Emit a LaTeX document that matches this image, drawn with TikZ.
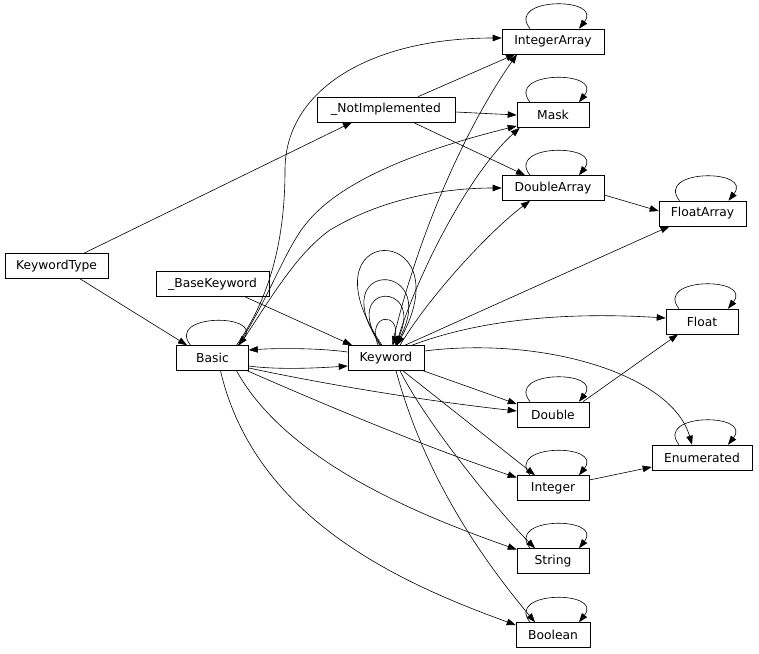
\documentclass[tikz,border=0pt]{standalone}
\usepackage{fontspec}
\setmainfont{DejaVu Sans}
\usetikzlibrary{arrows.meta}
\tikzset{
  box/.style={draw, rectangle, minimum height=25, inner sep=0, line width=0.6pt, font=\fontsize{12.3}{14}\selectfont},
  link/.style={draw, line width=0.6pt, -{Triangle[length=9pt,width=6.5pt]}}
}
\newcommand{\sloop}[1]{\draw[link] ([xshift=-23]#1.north) .. controls +(-25,-32) and +(25,-32) .. ([xshift=26]#1.north);}
\begin{document}
\begin{tikzpicture}[x=1pt,y=-1pt]
\useasboundingbox (0,0) rectangle (759,653);
% nodes
\node[box, minimum width=102] (IA) at (553,41.5) {IntegerArray};
\node[box, minimum width=138] (NI) at (386,109.5) {\_NotImplemented};
\node[box, minimum width=72] (Mask) at (553,115) {Mask};
\node[box, minimum width=102] (DA) at (553,188) {DoubleArray};
\node[box, minimum width=87] (FA) at (702.5,213.5) {FloatArray};
\node[box, minimum width=103] (KT) at (56.5,266) {KeywordType};
\node[box, minimum width=113] (BK) at (212.5,284) {\_BaseKeyword};
\node[box, minimum width=72] (Basic) at (212.5,358) {Basic};
\node[box, minimum width=76] (KW) at (386,358) {Keyword};
\node[box, minimum width=72] (Float) at (702,321.5) {Float};
\node[box, minimum width=72] (Double) at (553,414.5) {Double};
\node[box, minimum width=100] (Enum) at (702,457.5) {Enumerated};
\node[box, minimum width=72] (Int) at (553,488) {Integer};
\node[box, minimum width=72] (Str) at (553,561) {String};
\node[box, minimum width=74] (Bool) at (553,635) {Boolean};
% self loops
\sloop{IA}
\sloop{Mask}
\sloop{DA}
\sloop{FA}
\sloop{Float}
\sloop{Double}
\sloop{Enum}
\sloop{Int}
\sloop{Str}
\sloop{Bool}
\draw[link] ([xshift=-22]Basic.north) .. controls +(-25,-32) and +(25,-32) .. ([xshift=26]Basic.north);
% keyword loops
\draw[link] ([xshift=-8]KW.north) .. controls +(-12,-33) and +(8,-33) .. ([xshift=7]KW.north);
\draw[link] ([xshift=-6]KW.north) .. controls +(-40,-64) and +(30,-64) .. ([xshift=9]KW.north);
\draw[link] ([xshift=-5]KW.north) .. controls +(-60,-86) and +(45,-86) .. ([xshift=10]KW.north);
\draw[link] ([xshift=-4]KW.north) .. controls +(-85,-125) and +(68,-125) .. ([xshift=11]KW.north);
% straight edges
\draw[link] ([xshift=27.5]KT.north) -- ([xshift=-34]NI.south);
\draw[link] ([xshift=23.5]KT.south) -- ([xshift=-25.5]Basic.north);
\draw[link] ([xshift=32.5]BK.south) -- ([xshift=-34]KW.north);
\draw[link] ([xshift=32]NI.north) -- ([xshift=-38]IA.south);
\draw[link] ([yshift=-2.5]NI.east) -- (Mask.west);
\draw[link] ([xshift=27]NI.south) -- ([xshift=-28]DA.north);
\draw[link] ([yshift=-7]DA.east) -- ([yshift=2.5]FA.west);
\draw[link] ([xshift=30]Double.north) -- ([xshift=-24]Float.south);
\draw[link] ([yshift=8]Int.east) -- ([yshift=-9.5]Enum.west);
% keyword edges
\draw[link] ([xshift=6]KW.north) .. controls +(25,-110) and +(-50,71) .. ([xshift=-36]IA.south);
\draw[link] ([xshift=10]KW.north) .. controls +(20,-70) and +(-50,45) .. ([xshift=3]Mask.south west);
\draw[link] ([xshift=14]KW.north) .. controls +(30,-50) and +(-40,30) .. ([xshift=-23]DA.south);
\draw[link] ([xshift=19]KW.north) -- ([xshift=-33]FA.south);
\draw[link] ([xshift=26]KW.north) .. controls +(80,-30) and +(-80,-5) .. ([yshift=3.5]Float.west);
\draw[link] ([yshift=7]KW.east) .. controls +(120,-15) and +(-20,-70) .. ([xshift=-10]Enum.north);
\draw[link] ([xshift=-1]KW.south east) -- ([yshift=10.5]Double.west);
\draw[link] ([xshift=17]KW.south) -- ([xshift=-18]Int.north);
\draw[link] ([xshift=14]KW.south) .. controls +(25,50) and +(-40,-40) .. ([xshift=-18]Str.north);
\draw[link] ([xshift=10]KW.south) .. controls +(30,110) and +(-50,-60) .. ([xshift=-18]Bool.north);
\draw[link] ([yshift=6]KW.west) .. controls +(-30,-4) and +(30,-2) .. ([yshift=8]Basic.east);
% basic edges
\draw[link] ([yshift=-8]Basic.east) .. controls +(30,4) and +(-30,2) .. ([yshift=-8]KW.west);
\draw[link] ([xshift=24]Basic.north) .. controls (265,305) and (285,250) .. (285,170) .. controls (285,90) and (370,38) .. ([yshift=3.5]IA.west);
\draw[link] ([xshift=25.5]Basic.north) .. controls (268,300) and (285,250) .. (305,225) .. controls (340,180) and (420,150) .. ([yshift=-11]Mask.west);
\draw[link] ([xshift=27]Basic.north) .. controls (270,300) and (295,255) .. (330,230) .. controls (380,200) and (440,188) .. (DA.west);
\draw[link] ([yshift=-10]Basic.east) .. controls +(80,17) and +(-90,-10) .. ([yshift=3.5]Double.west);
\draw[link] ([xshift=-1.5]Basic.south east) .. controls +(80,35) and +(-90,-30) .. ([yshift=10.5]Int.west);
\draw[link] ([xshift=24]Basic.south) .. controls +(50,90) and +(-100,-35) .. ([yshift=11.5]Str.west);
\draw[link] ([xshift=8]Basic.south) .. controls +(35,150) and +(-110,-40) .. ([yshift=10]Bool.west);
\end{tikzpicture}
\end{document}
